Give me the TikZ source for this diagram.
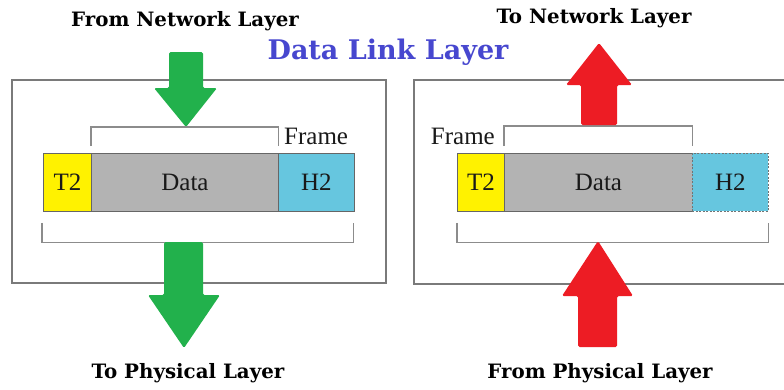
\documentclass[tikz,border=0pt]{standalone}
\usepackage{fontspec}
\setmainfont{Liberation Serif}
\newfontfamily\slabfont{DejaVu Serif}
\definecolor{agreen}{HTML}{22B14C}
\definecolor{ared}{HTML}{ED1C24}
\definecolor{dgray}{HTML}{B3B3B3}
\definecolor{hblue}{HTML}{66C6DF}
\definecolor{tblue}{HTML}{4747CF}
\definecolor{lgray}{HTML}{7A7A7A}
\begin{document}
\begin{tikzpicture}[x=1pt,y=-1pt,
  outer/.style={draw=lgray, line width=1.3pt},
  seg/.style={draw=black!60, line width=0.9pt, minimum height=58pt, anchor=north west,
    inner sep=0pt, font=\rmfamily\fontsize{25}{30}\selectfont, text=black!90},
  brk/.style={draw=black!45, line width=1.1pt},
  frm/.style={font=\rmfamily\fontsize{25}{30}\selectfont, text=black!90, inner sep=0pt},
  lbl/.style={font=\slabfont\bfseries\fontsize{19.8}{22}\selectfont, text=black},
  ttl/.style={font=\slabfont\bfseries\fontsize{27}{30}\selectfont, text=tblue},
  garrow/.style={fill=agreen, rounded corners=1.5pt},
  rarrow/.style={fill=ared, rounded corners=1.5pt}]
\useasboundingbox (0,0) rectangle (784,389);
\fill[white] (0,0) rectangle (784,389);

% ---- left panel ----
\draw[outer] (12,80) rectangle (386,283);
\node[seg, fill=yellow, minimum width=48pt] (lt) at (43,153) {T2};
\node[seg, fill=dgray, minimum width=187pt] (ld) at (91,153) {Data};
\node[seg, fill=hblue, minimum width=76pt] (lh) at (278,153) {H2};
\draw[brk] ([yshift=7pt]ld.north west) -- ([yshift=26pt]ld.north west)
  -- ([yshift=26pt]ld.north east) -- ([yshift=7pt]ld.north east);
\draw[brk] ([xshift=-1pt,yshift=-11pt]lt.south west) -- ([xshift=-1pt,yshift=-31pt]lt.south west)
  -- ([xshift=-1pt,yshift=-31pt]lh.south east) -- ([xshift=-1pt,yshift=-11pt]lh.south east);
\node[frm, anchor=base west] (lf) at (284,144) {Frame};

% ---- right panel ----
\draw[outer] (786,80) -- (414,80) -- (414,284) -- (786,284);
\node[seg, fill=yellow, minimum width=47pt] (rt) at (457,153) {T2};
\node[seg, fill=dgray, minimum width=188pt] (rd) at (504,153) {Data};
\node[seg, fill=hblue, minimum width=76pt, draw=black!55, dash pattern=on 2pt off 1.5pt] (rh) at (692,153) {H2};
\draw[brk] ([yshift=7pt]rd.north west) -- ([yshift=27pt]rd.north west)
  -- ([yshift=27pt]rd.north east) -- ([yshift=7pt]rd.north east);
\draw[brk] ([yshift=-11pt]rt.south west) -- ([yshift=-31pt]rt.south west)
  -- ([yshift=-31pt]rh.south east) -- ([yshift=-11pt]rh.south east);
\node[frm, anchor=base east] (rf) at (495,144) {Frame};

% ---- arrows ----
\fill[garrow] (169,52) -- (203,52) -- (203,88) -- (217,88) -- (186,127) -- (154,88) -- (169,88) -- cycle;
\fill[garrow] (164,242) -- (203,242) -- (203,295) -- (220,295) -- (184,348) -- (148,295) -- (164,295) -- cycle;
\fill[rarrow] (599,43) -- (632,85) -- (617,85) -- (617,125) -- (581,125) -- (581,85) -- (566,85) -- cycle;
\fill[rarrow] (598,241) -- (633,296) -- (617,296) -- (617,347) -- (578,347) -- (578,296) -- (562,296) -- cycle;

% ---- labels ----
\node[lbl] (fnl) at (185,21) {From Network Layer};
\node[lbl] (tnl) at (594,18) {To Network Layer};
\node[ttl] (dll) at (388,52) {Data Link Layer};
\node[lbl] (tpl) at (188,373) {To Physical Layer};
\node[lbl] (fpl) at (600,373) {From Physical Layer};
\end{tikzpicture}
\end{document}
